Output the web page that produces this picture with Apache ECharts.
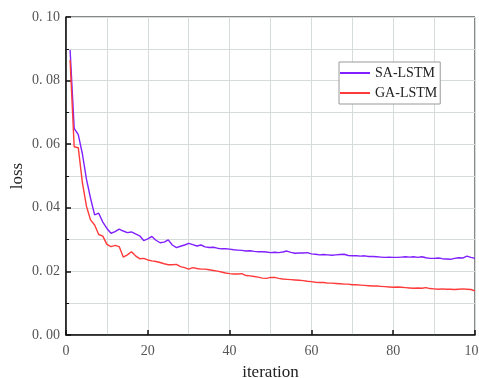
<!DOCTYPE html>
<html><head><meta charset="utf-8">
<script src="https://cdn.jsdelivr.net/npm/echarts@6/dist/echarts.min.js"></script>
<style>html,body{margin:0;padding:0;background:#fff}#c{width:479px;height:378px}</style>
</head><body><div id="c"></div>
<script>
const seriesNames = ['SA-LSTM', 'GA-LSTM'];
const saLstm = [0.0896,0.065,0.063,0.057,0.049,0.043,0.0378,0.0383,0.0355,0.0335,
0.032,0.0325,0.0333,0.0327,0.0322,0.0324,0.0318,0.0312,0.0297,0.0302,
0.031,0.0298,0.029,0.0292,0.0299,0.0283,0.0275,0.0279,0.0283,0.0288,
0.0284,0.028,0.0283,0.0277,0.0275,0.0276,0.0273,0.0271,0.0271,0.027,
0.0268,0.0267,0.0266,0.0264,0.0265,0.0263,0.0262,0.0262,0.0261,0.0259,
0.026,0.0259,0.0261,0.0264,0.026,0.0257,0.0258,0.0258,0.0259,0.0255,
0.0254,0.0252,0.0253,0.0252,0.0251,0.0252,0.0253,0.0254,0.025,0.0249,
0.0249,0.0248,0.0249,0.0247,0.0247,0.0246,0.0245,0.0244,0.0245,0.0244,
0.0244,0.0245,0.0246,0.0245,0.0246,0.0244,0.0246,0.0243,0.0241,0.0241,
0.0242,0.024,0.0239,0.0238,0.0241,0.0243,0.0242,0.0248,0.0244,0.0241];
const gaLstm = [0.0865,0.0592,0.0589,0.048,0.0405,0.0362,0.0346,0.0316,0.0311,0.0285,
0.0278,0.0282,0.0278,0.0245,0.0252,0.0262,0.0249,0.024,0.0241,0.0236,
0.0233,0.0231,0.0228,0.0224,0.0221,0.0221,0.0222,0.0215,0.0212,0.0207,
0.0212,0.0209,0.0207,0.0207,0.0205,0.0203,0.0201,0.0198,0.0195,0.0193,
0.0192,0.0192,0.0193,0.0187,0.0186,0.0184,0.0182,0.0179,0.0178,0.0181,
0.0181,0.0178,0.0176,0.0175,0.0174,0.0173,0.0172,0.0171,0.0169,0.0168,
0.0166,0.0165,0.0165,0.0163,0.0163,0.0162,0.0161,0.016,0.016,0.0158,
0.0158,0.0157,0.0156,0.0155,0.0154,0.0154,0.0153,0.0152,0.0151,0.015,
0.0151,0.015,0.0149,0.0148,0.0147,0.0148,0.0147,0.0149,0.0146,0.0145,
0.0144,0.0145,0.0144,0.0144,0.0143,0.0144,0.0145,0.0144,0.0143,0.0139];
const iterations = saLstm.map((_, i) => i + 1);
const xName = 'iteration';
const yName = 'loss';

const font = '"Liberation Serif", "DejaVu Serif", serif';
const chart = echarts.init(document.getElementById('c'), null, {renderer: 'canvas'});
chart.setOption({
  animation: false,
  backgroundColor: '#fff',
  grid: {left: 66, top: 17, right: 4, bottom: 43, containLabel: false, outerBoundsMode: 'none',
    show: true, borderColor: '#111', borderWidth: 1, backgroundColor: '#fff'},
  legend: {
    orient: 'vertical', left: 339, top: 62,
    data: seriesNames,
    backgroundColor: '#fff',
    borderColor: '#999', borderWidth: 1, padding: [4, 3, 4, 1],
    itemWidth: 30, itemHeight: 2, itemGap: 6,
    icon: 'rect',
    textStyle: {fontFamily: font, fontSize: 14, color: '#222'}
  },
  xAxis: {
    type: 'value', min: 0, max: 100, interval: 20,
    name: xName, nameLocation: 'middle', nameGap: 29, nameMoveOverlap: false,
    nameTextStyle: {fontFamily: font, fontSize: 17, color: '#222'},
    axisLine: {show: true, lineStyle: {color: '#111', width: 1.5}},
    axisTick: {show: true, inside: true, length: 5, lineStyle: {color: '#111', width: 1.5}},
    minorTick: {show: false, splitNumber: 2},
    axisLabel: {fontFamily: font, fontSize: 14, color: '#555', margin: 9},
    splitLine: {show: true, lineStyle: {color: '#d6dcdc', width: 1}},
    minorSplitLine: {show: true, lineStyle: {color: '#d6dcdc', width: 1}}
  },
  yAxis: {
    type: 'value', min: 0, max: 0.1, interval: 0.02,
    name: yName, nameLocation: 'middle', nameGap: 40, nameRotate: 90, nameMoveOverlap: false,
    nameTextStyle: {fontFamily: font, fontSize: 17, color: '#222'},
    axisLine: {show: true, lineStyle: {color: '#111', width: 1.5}},
    axisTick: {show: true, inside: true, length: 5, lineStyle: {color: '#111', width: 1.5}},
    minorTick: {show: true, splitNumber: 2, length: 3, lineStyle: {color: '#111', width: 1}},
    axisLabel: {fontFamily: font, fontSize: 14, color: '#555', margin: 6,
      formatter: v => v.toFixed(2).replace('.', '. ')},
    splitLine: {show: true, lineStyle: {color: '#d6dcdc', width: 1}},
    minorSplitLine: {show: true, lineStyle: {color: '#d6dcdc', width: 1}}
  },
  series: [
    {name: seriesNames[0], type: 'line', showSymbol: false, symbol: 'none',
     data: iterations.map((x, i) => [x, saLstm[i]]),
     lineStyle: {color: '#8020ff', width: 1.4}, itemStyle: {color: '#8020ff'}},
    {name: seriesNames[1], type: 'line', showSymbol: false, symbol: 'none',
     data: iterations.map((x, i) => [x, gaLstm[i]]),
     lineStyle: {color: '#ff3a3a', width: 1.4}, itemStyle: {color: '#ff3a3a'}}
  ]
});
</script></body></html>
